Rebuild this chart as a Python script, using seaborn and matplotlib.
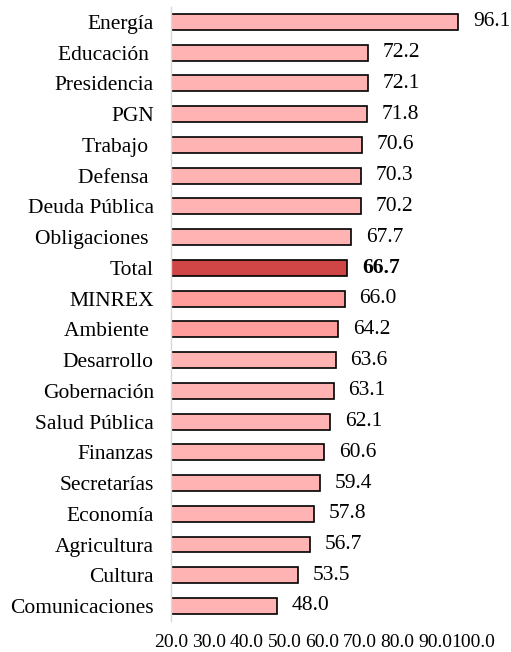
import matplotlib
matplotlib.use("Agg")
import matplotlib.pyplot as plt
import seaborn as sns
import pandas as pd

categories = ["Energía", "Educación ", "Presidencia", "PGN", "Trabajo ", "Defensa ",
              "Deuda Pública", "Obligaciones ", "Total", "MINREX", "Ambiente ",
              "Desarrollo", "Gobernación", "Salud Pública", "Finanzas", "Secretarías",
              "Economía", "Agricultura", "Cultura", "Comunicaciones"]
values = [96.1, 72.2, 72.1, 71.8, 70.6, 70.3, 70.2, 67.7, 66.7, 66.0, 64.2,
          63.6, 63.1, 62.1, 60.6, 59.4, 57.8, 56.7, 53.5, 48.0]
colors = ["#FFB3B3"] * 8 + ["#D04545", "#FF9C9C", "#FF9C9C"] + ["#FFB3B3"] * 9
xticks = [20, 30, 40, 50, 60, 70, 80, 90, 100]

sns.set_theme(style="white")
plt.rcParams["font.family"] = ["Liberation Serif", "DejaVu Serif"]

df = pd.DataFrame({"cat": categories, "val": values})

fig = plt.figure(figsize=(5.11, 6.52), dpi=100)
ax = fig.add_axes([0.335, 0.047, 0.591, 0.943])

sns.barplot(data=df, x="val", y="cat", hue="cat", palette=colors, legend=False,
            orient="h", width=0.52, edgecolor="black", linewidth=1.2,
            saturation=1, ax=ax)

ax.set_xlim(20, 100)
ax.set_ylim(19.5, -0.5)
ax.set_xticks(xticks)
ax.set_xticklabels([f"{t:.1f}" for t in xticks], fontsize=14)
ax.tick_params(axis="x", length=0, pad=9)
ax.tick_params(axis="y", length=0, pad=12.5, labelsize=15.5)
for lbl in ax.get_yticklabels():
    lbl.set_color("black")
for lbl in ax.get_xticklabels():
    lbl.set_color("black")
ax.set_xlabel("")
ax.set_ylabel("")

for i, v in enumerate(values):
    ax.text(v + 3.9, i, f"{v:.1f}", va="center", ha="left", fontsize=15.5,
            color="black", fontweight="bold" if categories[i] == "Total" else "normal")

for s in ["top", "right", "bottom"]:
    ax.spines[s].set_visible(False)
ax.spines["left"].set_color("#D9D9D9")
ax.spines["left"].set_linewidth(1.0)

fig.savefig("out.png", dpi=100)
